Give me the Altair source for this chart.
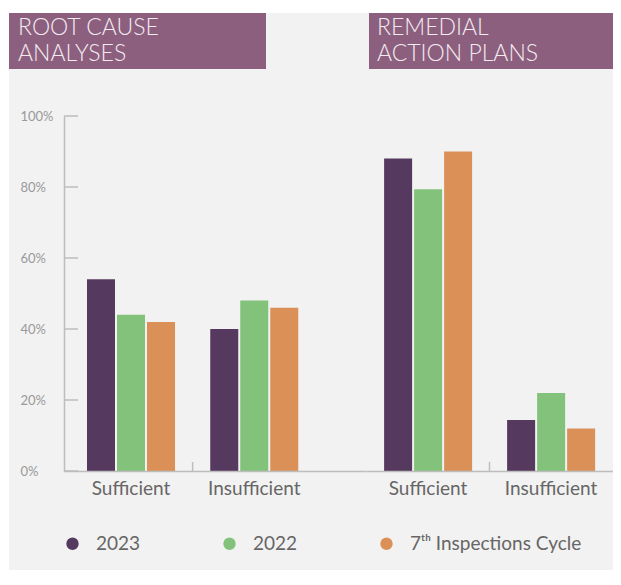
import altair as alt
import pandas as pd

# ---------------- data ----------------
categories = ["Sufficient", "Insufficient"]
series = ["2023", "2022", "7ᵗʰ Inspections Cycle"]
colors = ["#56395e", "#83c27a", "#db9058"]

rca_2023 = [54, 40]
rca_2022 = [44, 48]
rca_7th = [42, 46]

rap_2023 = [88, 14.4]
rap_2022 = [79.4, 22]
rap_7th = [90, 12]

y_ticks = [0, 20, 40, 60, 80, 100]

title_left = ["ROOT CAUSE", "ANALYSES"]
title_right = ["REMEDIAL", "ACTION PLANS"]

# ---------------- style ----------------
FONT = "Lato"
AXIS_GRAY = "#bdbdbd"
BOX = "#8c5f7e"
BG = "#f2f2f2"
H = 355


def make_df(v23, v22, v7):
    rows = []
    for s, vals in zip(series, [v23, v22, v7]):
        for c, v in zip(categories, vals):
            rows.append({"cat": c, "series": s, "value": v})
    return pd.DataFrame(rows)


y_scale = alt.Scale(domain=[0, 100])
color_enc = alt.Color(
    "series:N",
    sort=series,
    scale=alt.Scale(domain=series, range=colors),
    legend=alt.Legend(
        orient="none", legendX=-1, legendY=418, direction="horizontal",
        title=None, symbolType="circle", symbolSize=154, symbolStrokeWidth=0,
        symbolOpacity=1, labelFontSize=19, labelColor="#666666", labelFont=FONT,
        labelOffset=14, columnPadding=79, padding=0, labelLimit=0,
    ),
)


def x_axis():
    return alt.Axis(
        title=None, labelAngle=0, ticks=False, tickSize=0, domain=True,
        domainColor=AXIS_GRAY, domainWidth=1.5, labelFontSize=19,
        labelColor="#666666", labelFont=FONT, labelPadding=8, zindex=1,
    )


def y_axis():
    return alt.Axis(
        title=None, values=y_ticks, ticks=False, tickSize=0, grid=False,
        domain=True, domainColor=AXIS_GRAY, domainWidth=1.5,
        labelAlign="left", labelBaseline="middle", labelPadding=44,
        labelFontSize=13, labelColor="#999999", labelFont=FONT,
        labelExpr="datum.value + '%'", zindex=1,
    )


def panel(df, width, x_scale, off_scale, lines, box_x, box_x2, text_x, left):
    one = pd.DataFrame({"d": [0]})
    layers = []
    y_ax = y_axis() if left else None
    if left:
        layers.append(
            alt.Chart(one).mark_rect(color=BG).encode(
                x=alt.value(-55), x2=alt.value(549),
                y=alt.value(-103), y2=alt.value(454)))
    layers.append(
        alt.Chart(one).mark_rect(color=BOX).encode(
            x=alt.value(box_x), x2=alt.value(box_x2),
            y=alt.value(-103), y2=alt.value(-47)))
    layers.append(
        alt.Chart(one).mark_text(
            text=lines, align="left", baseline="alphabetic", fontSize=23,
            font=FONT, fontWeight=300, lineHeight=25.5, color="#f3ebf1",
        ).encode(x=alt.value(text_x), y=alt.value(-81)))
    layers.append(
        alt.Chart(df).mark_bar().encode(
            x=alt.X("cat:N", scale=x_scale, axis=x_axis()),
            xOffset=alt.XOffset("series:N", sort=series, scale=off_scale),
            y=alt.Y("value:Q", scale=y_scale, axis=y_ax),
            color=color_enc,
        ))
    if left:
        layers.append(
            alt.Chart(pd.DataFrame({"v": y_ticks})).mark_rule(
                color=AXIS_GRAY, strokeWidth=1.5).encode(
                y=alt.Y("v:Q", scale=y_scale, axis=y_ax),
                x=alt.value(0), x2=alt.value(14)))
    layers.append(
        alt.Chart(pd.DataFrame({"cat": [categories[1]]})).mark_rule(
            color=AXIS_GRAY, strokeWidth=1.5).encode(
            x=alt.X("cat:N", scale=x_scale, axis=x_axis(), bandPosition=0),
            y=alt.value(H - 9), y2=alt.value(H)))
    return alt.layer(*layers).properties(width=width, height=H)


x_left = alt.Scale(domain=categories, paddingInner=0, paddingOuter=0.2252, align=0.097)
x_right = alt.Scale(domain=categories, paddingInner=0, paddingOuter=0.004, align=0.5)
off_left = alt.Scale(domain=series, paddingInner=0.0667, paddingOuter=0.587)
off_right = alt.Scale(domain=series, paddingInner=0.0667, paddingOuter=0.583)

left = panel(make_df(rca_2023, rca_2022, rca_7th), 302, x_left, off_left,
             title_left, -55, 202, -46, True)
right = panel(make_df(rap_2023, rap_2022, rap_7th), 247, x_right, off_right,
              title_right, 3, 247, 11, False)

chart = alt.hconcat(left, right, spacing=0, bounds="flush").properties(
    padding={"left": 1, "top": 5, "right": 0, "bottom": 0},
    background="white",
).configure_view(stroke=None)

chart.save("out.html", embed_options={"renderer": "svg", "actions": False})
